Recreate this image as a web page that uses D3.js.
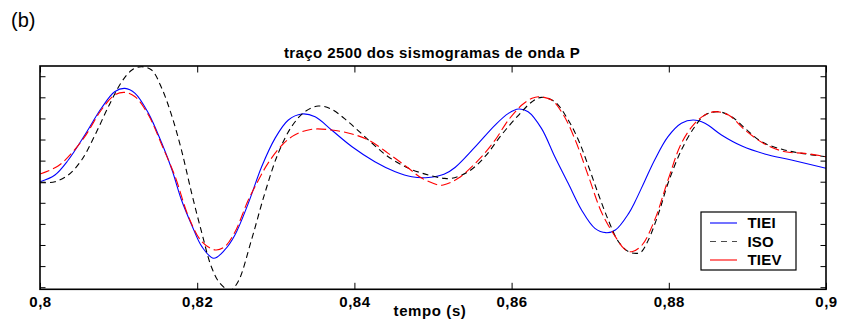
<!DOCTYPE html>
<html>
<head>
<meta charset="utf-8">
<script src="https://cdn.jsdelivr.net/npm/d3@7"></script>
<style>
  html, body { margin: 0; padding: 0; background: #fff; }
  svg { display: block; font-family: "Liberation Sans", Arial, Helvetica, sans-serif; }
</style>
</head>
<body>
<svg id="chart" width="845" height="322"></svg>
<script>
// ---- data ----
const xTicks = [0.8, 0.82, 0.84, 0.86, 0.88, 0.9];
const xTickLabels = ["0,8", "0,82", "0,84", "0,86", "0,88", "0,9"];
const yTicks = [-1, -0.8, -0.6, -0.4, -0.2, 0, 0.2, 0.4, 0.6, 0.8, 1];

const seriesNames = ["TIEI", "ISO", "TIEV"];

const tieiT = [0.8000,0.8019,0.8036,0.8057,0.8078,0.8095,0.8108,0.8121,0.8138,0.8155,0.8168,0.8180,0.8193,0.8206,0.8221,0.8235,0.8248,0.8265,0.8282,0.8299,0.8316,0.8333,0.8350,0.8371,0.8397,0.8426,0.8452,0.8473,0.8494,0.8514,0.8528,0.8553,0.8579,0.8596,0.8609,0.8621,0.8638,0.8655,0.8672,0.8689,0.8706,0.8720,0.8732,0.8749,0.8757,0.8769,0.8782,0.8799,0.8816,0.8831,0.8846,0.8867,0.8893,0.8922,0.8956,0.9000];
const tieiV = [0,0.064,0.206,0.443,0.696,0.853,0.885,0.838,0.648,0.364,0.111,-0.173,-0.410,-0.616,-0.726,-0.647,-0.505,-0.205,0.142,0.411,0.585,0.642,0.616,0.490,0.332,0.190,0.095,0.047,0.040,0.070,0.135,0.325,0.537,0.648,0.689,0.664,0.506,0.237,-0.015,-0.268,-0.442,-0.483,-0.458,-0.300,-0.190,0,0.206,0.427,0.554,0.585,0.554,0.443,0.338,0.263,0.206,0.127];

const isoT = [0.8000,0.8019,0.8036,0.8053,0.8070,0.8087,0.8104,0.8117,0.8129,0.8142,0.8155,0.8168,0.8180,0.8193,0.8206,0.8218,0.8229,0.8242,0.8252,0.8269,0.8286,0.8303,0.8320,0.8337,0.8354,0.8371,0.8392,0.8418,0.8443,0.8469,0.8494,0.8514,0.8524,0.8545,0.8566,0.8587,0.8609,0.8626,0.8638,0.8655,0.8672,0.8685,0.8698,0.8710,0.8723,0.8736,0.8749,0.8760,0.8765,0.8774,0.8787,0.8799,0.8816,0.8833,0.8846,0.8863,0.8880,0.8897,0.8918,0.8944,0.8969,0.9000];
const isoV = [-0.01,0,0.064,0.206,0.443,0.711,0.948,1.059,1.090,1.059,0.885,0.616,0.300,-0.110,-0.489,-0.806,-0.963,-1.030,-0.948,-0.553,-0.110,0.269,0.521,0.664,0.718,0.686,0.569,0.395,0.237,0.127,0.064,0.032,0.032,0.095,0.237,0.443,0.632,0.758,0.800,0.758,0.585,0.395,0.142,-0.110,-0.363,-0.569,-0.664,-0.679,-0.666,-0.553,-0.300,-0.015,0.300,0.521,0.632,0.664,0.616,0.506,0.379,0.307,0.269,0.237];

const tievT = [0.8000,0.8023,0.8040,0.8057,0.8078,0.8095,0.8108,0.8121,0.8138,0.8155,0.8172,0.8189,0.8206,0.8223,0.8235,0.8248,0.8265,0.8278,0.8290,0.8308,0.8324,0.8346,0.8371,0.8397,0.8418,0.8443,0.8469,0.8486,0.8507,0.8513,0.8532,0.8558,0.8579,0.8596,0.8613,0.8626,0.8634,0.8651,0.8666,0.8681,0.8698,0.8715,0.8732,0.8744,0.8753,0.8766,0.8782,0.8799,0.8816,0.8833,0.8846,0.8859,0.8876,0.8897,0.8922,0.8948,0.8973,0.9000];
const tievV = [0.073,0.149,0.269,0.427,0.680,0.822,0.847,0.806,0.632,0.348,0.047,-0.332,-0.569,-0.647,-0.616,-0.477,-0.173,0.016,0.174,0.348,0.443,0.497,0.490,0.452,0.395,0.269,0.127,0.032,-0.031,-0.031,0.032,0.206,0.395,0.585,0.727,0.791,0.806,0.774,0.632,0.395,0.047,-0.300,-0.521,-0.641,-0.664,-0.600,-0.363,0.016,0.364,0.554,0.632,0.664,0.632,0.490,0.357,0.284,0.269,0.237];

// ---- layout ----
const svg = d3.select("#chart");
const L = 40, R = 826, T = 66, B = 289.3;
const x = d3.scaleLinear().domain([0.8, 0.9]).range([L, R]);
const y = d3.scaleLinear().domain([-1.02, 1.097]).range([B, T]);

const zip = (a, b) => a.slice(0, Math.min(a.length, b.length)).map((t, i) => [t, b[i]]);
const series = [
  { name: seriesNames[0], data: zip(tieiT, tieiV), color: "#0000ff", dash: null, legendDash: null },
  { name: seriesNames[1], data: zip(isoT, isoV), color: "#000000", dash: "6,4", legendDash: "6,5" },
  { name: seriesNames[2], data: zip(tievT, tievV), color: "#ff0000", dash: "10,4", legendDash: null }
];

svg.append("defs").append("clipPath").attr("id", "clip")
  .append("rect").attr("x", L).attr("y", T).attr("width", R - L).attr("height", B - T);

// panel label
svg.append("text").attr("x", 11).attr("y", 27).attr("font-size", 20).text("(b)");

// title
svg.append("text").attr("x", (L + R) / 2 - 1).attr("y", 57.5)
  .attr("text-anchor", "middle").attr("font-size", 15).attr("font-weight", "bold")
  .attr("letter-spacing", 0.4)
  .text("traço 2500 dos sismogramas de onda P");

// lines
const line = d3.line().x(d => x(d[0])).y(d => y(d[1])).curve(d3.curveCatmullRom.alpha(0.5));
const g = svg.append("g").attr("clip-path", "url(#clip)");
series.forEach(s => {
  g.append("path").datum(s.data).attr("d", line)
    .attr("fill", "none").attr("stroke", s.color).attr("stroke-width", 1.1)
    .attr("stroke-dasharray", s.dash);
});

// axes (inward ticks, box)
const tickLen = 6.5;
const axB = d3.axisBottom(x).tickValues(xTicks).tickSizeInner(-tickLen).tickSizeOuter(0)
  .tickFormat((d, i) => xTickLabels[i]);
const axT = d3.axisTop(x).tickValues(xTicks).tickSizeInner(-tickLen).tickSizeOuter(0).tickFormat("");
const axL = d3.axisLeft(y).tickValues(yTicks).tickSizeInner(-5.5).tickSizeOuter(0).tickFormat("");
const axR = d3.axisRight(y).tickValues(yTicks).tickSizeInner(-5.5).tickSizeOuter(0).tickFormat("");

function style(sel) {
  sel.select(".domain").remove();
  sel.selectAll(".tick line").attr("stroke", "#000").attr("stroke-width", 1);
}
const gB = svg.append("g").attr("transform", `translate(0,${B})`).call(axB).call(style);
gB.selectAll(".tick text").attr("font-size", 15).attr("font-weight", "bold")
  .attr("font-family", "'Liberation Sans', Arial, sans-serif").attr("fill", "#000")
  .attr("letter-spacing", 0.5)
  .attr("y", 17.8).attr("dy", 0);
svg.append("g").attr("transform", `translate(0,${T})`).call(axT).call(style);
svg.append("g").attr("transform", `translate(${L},0)`).call(axL).call(style);
svg.append("g").attr("transform", `translate(${R},0)`).call(axR).call(style);

svg.append("rect").attr("x", L).attr("y", T).attr("width", R - L).attr("height", B - T)
  .attr("fill", "none").attr("stroke", "#000").attr("stroke-width", 1.6);

// x label
svg.append("text").attr("x", 430).attr("y", 315.5).attr("text-anchor", "middle")
  .attr("font-size", 15).attr("font-weight", "bold").attr("letter-spacing", 0.6).text("tempo (s)");

// legend
const lg = svg.append("g");
lg.append("rect").attr("x", 701).attr("y", 212).attr("width", 95).attr("height", 58)
  .attr("fill", "#fff").attr("stroke", "#000").attr("stroke-width", 1.2);
series.forEach((s, i) => {
  const cy = 223 + i * 18.5;
  lg.append("line").attr("x1", 710).attr("x2", 737).attr("y1", cy).attr("y2", cy)
    .attr("stroke", s.color).attr("stroke-width", 1.1)
    .attr("stroke-dasharray", s.legendDash)
    .attr("stroke-opacity", s.legendDash ? 0.7 : 1);
  lg.append("text").attr("x", 747.5).attr("y", cy + 5.3).attr("font-size", 15)
    .attr("font-weight", "bold").attr("letter-spacing", 0.2).text(s.name);
});
</script>
</body>
</html>
